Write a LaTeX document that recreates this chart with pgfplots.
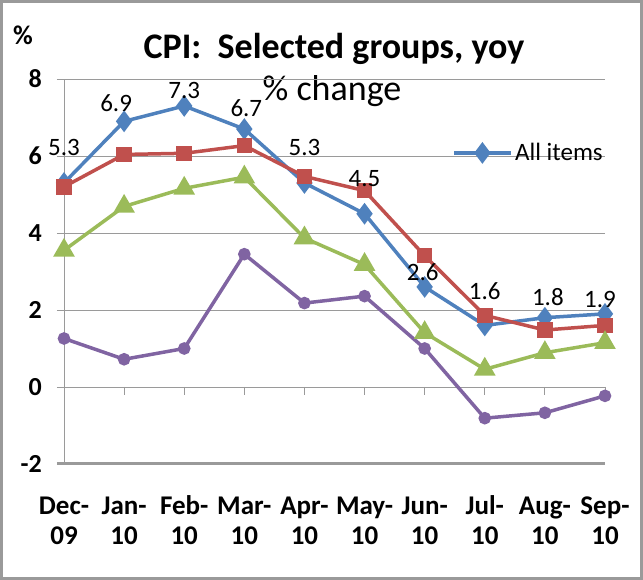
\documentclass[border=0pt]{standalone}
\usepackage{fontspec}
\setmainfont{Carlito}
\usepackage{pgfplots}
\pgfplotsset{compat=1.18}
\usepackage{pgfplotstable}
\definecolor{cblue}{HTML}{4F81BD}
\definecolor{cred}{HTML}{C0504D}
\definecolor{cgreen}{HTML}{9BBB59}
\definecolor{cpurple}{HTML}{8064A2}
\definecolor{cgrid}{HTML}{9A9A9A}

\pgfplotstableread{
x y lab dx dy
0 5.3 5.3 0 35
1 6.9 6.9 -8 18
2 7.3 7.3 0 15
3 6.7 6.7 2 21
4 5.3 5.3 0 35
5 4.5 4.5 0 35
6 2.6 2.6 -2 15
7 1.6 1.6 0 34
8 1.8 1.8 3 21
9 1.9 1.9 -5 14
}\allitems

\pgfplotstableread{
x y
0 5.2
1 6.04
2 6.07
3 6.27
4 5.47
5 5.1
6 3.41
7 1.86
8 1.48
9 1.6
}\redser

\pgfplotstableread{
x y
0 3.55
1 4.69
2 5.16
3 5.45
4 3.87
5 3.18
6 1.41
7 0.46
8 0.89
9 1.15
}\greenser

\pgfplotstableread{
x y
0 1.26
1 0.72
2 1.0
3 3.45
4 2.18
5 2.36
6 1.0
7 -0.81
8 -0.67
9 -0.23
}\purpleser

\begin{document}
\begin{tikzpicture}
\useasboundingbox (0,0) rectangle (643pt,580pt);
\draw[cgrid, line width=3pt] (1.5pt,1.5pt) rectangle (641.5pt,578.5pt);
\node[font=\bfseries\fontsize{27}{30}\selectfont] at (23pt,545pt) {\%};
\node[font=\bfseries\fontsize{36}{40}\selectfont] at (334pt,531pt) {CPI:\ \ Selected groups, yoy};
\node[font=\fontsize{36}{40}\selectfont] at (332pt,489pt) {\% change};
\begin{axis}[
  at={(64pt,116pt)}, anchor=south west,
  scale only axis, width=541pt, height=385pt,
  xmin=0, xmax=9, ymin=-2, ymax=8,
  clip=false,
  axis line style={draw=none},
  ytick={-2,0,2,4,6,8},
  yticklabels={-2,0,2,4,6,8},
  ytick pos=left,
  tick align=outside,
  major tick length=7pt,
  ytick style={cgrid, line width=0.8pt},
  yticklabel style={font=\bfseries\fontsize{26}{28}\selectfont, anchor=east, inner sep=0pt, xshift=-15pt},
  xtick={0,...,9},
  xtick style={draw=none},
  xticklabels={{\strut Dec-\\\strut 09},{\strut Jan-\\\strut 10},{\strut Feb-\\\strut 10},{\strut Mar-\\\strut 10},{\strut Apr-\\\strut 10},{\strut May-\\\strut 10},{\strut Jun-\\\strut 10},{\strut Jul-\\\strut 10},{\strut Aug-\\\strut 10},{\strut Sep-\\\strut 10}},
  xticklabel style={font=\bfseries\fontsize{27}{30}\selectfont, align=center, anchor=north, inner sep=0pt, yshift=-22pt},
  ymajorgrids,
  grid style={cgrid, line width=0.8pt},
  legend style={at={(axis description cs:0.718,0.808)}, anchor=west, draw=none, fill=none,
     font=\fontsize{25}{28}\selectfont, inner sep=0pt, nodes={inner sep=2pt}},
  legend image code/.code={\draw[mark repeat=2,mark phase=2,#1] plot coordinates {(0pt,0pt)(28pt,0pt)(57pt,0pt)};},
]
\draw[cgrid, line width=0.8pt] (axis cs:0,-2) -- (axis cs:0,8);
\draw[cgrid, line width=3pt] ([xshift=-7pt]axis cs:0,-2) -- (axis cs:9,-2);
\draw[cgrid, line width=0.8pt] (axis cs:1,0) -- ([yshift=-8pt]axis cs:1,0);
\draw[cgrid, line width=0.8pt] (axis cs:2,0) -- ([yshift=-8pt]axis cs:2,0);
\draw[cgrid, line width=0.8pt] (axis cs:3,0) -- ([yshift=-8pt]axis cs:3,0);
\draw[cgrid, line width=0.8pt] (axis cs:4,0) -- ([yshift=-8pt]axis cs:4,0);
\draw[cgrid, line width=0.8pt] (axis cs:5,0) -- ([yshift=-8pt]axis cs:5,0);
\draw[cgrid, line width=0.8pt] (axis cs:6,0) -- ([yshift=-8pt]axis cs:6,0);
\draw[cgrid, line width=0.8pt] (axis cs:7,0) -- ([yshift=-8pt]axis cs:7,0);
\draw[cgrid, line width=0.8pt] (axis cs:8,0) -- ([yshift=-8pt]axis cs:8,0);
\draw[cgrid, line width=0.8pt] (axis cs:9,0) -- ([yshift=-8pt]axis cs:9,0);

\addplot[cblue, line width=3.5pt, mark=diamond*, mark size=8pt, mark options={solid}]
  table[x=x, y=y] {\allitems};
\addlegendentry{All items}
\addplot[cred, line width=3.5pt, mark=square*, mark size=6pt, forget plot] table[x=x,y=y] {\redser};
\addplot[cgreen, line width=3.5pt, mark=triangle*, mark size=9pt, forget plot] table[x=x,y=y] {\greenser};
\addplot[cpurple, line width=3.5pt, mark=*, mark size=4.5pt, forget plot] table[x=x,y=y] {\purpleser};
\addplot[draw=none, no marks, forget plot,
  point meta=explicit symbolic,
  visualization depends on={\thisrow{dx}\as\labdx},
  visualization depends on={\thisrow{dy}\as\labdy},
  nodes near coords,
  every node near coord/.append style={font=\fontsize{25}{28}\selectfont, text=black, anchor=center, inner sep=0pt, xshift=\labdx pt, yshift=\labdy pt}]
  table[x=x, y=y, meta=lab] {\allitems};
\end{axis}
\end{tikzpicture}
\end{document}
